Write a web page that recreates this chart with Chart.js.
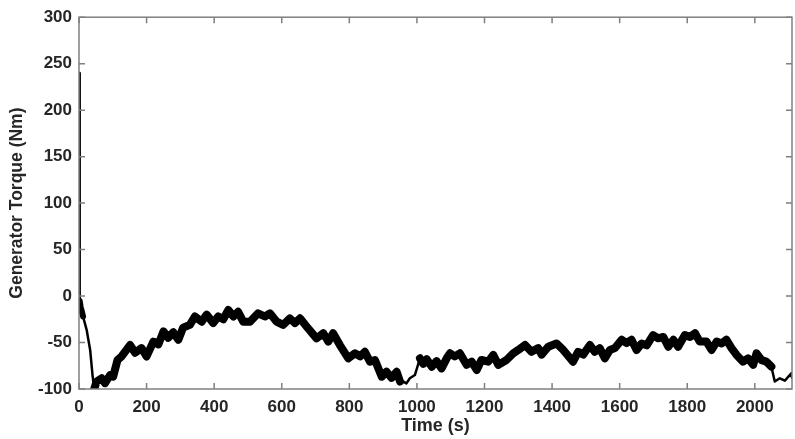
<!DOCTYPE html>
<html>
<head>
<meta charset="utf-8">
<script src="https://cdn.jsdelivr.net/npm/chart.js@4"></script>
<style>
  html, body { margin: 0; padding: 0; background: #fff; }
  #wrap { width: 795px; height: 439px; }
</style>
</head>
<body>
<div id="wrap"><canvas id="torque"></canvas></div>
<script>
// time (s) and generator torque (Nm)
const timeS = [0, 0.5, 2, 5, 8, 12, 23, 33, 40, 45, 52, 67, 77, 92, 101, 114, 126, 151, 166, 185, 200,
  220, 235, 250, 264, 279, 294, 308, 328, 343, 363, 378, 397, 412, 427, 442, 457, 471, 486, 506,
  530, 550, 565, 585, 604, 624, 639, 654, 674, 703, 723, 738, 752, 772, 797, 817, 832, 846, 861,
  876, 896, 910, 925, 940, 950, 960, 969, 979, 994, 1009, 1019, 1029, 1044, 1058, 1073, 1088,
  1098, 1112, 1127, 1147, 1162, 1177, 1191, 1211, 1226, 1241, 1265, 1285, 1300, 1320, 1339,
  1359, 1369, 1389, 1413, 1433, 1462, 1477, 1492, 1512, 1526, 1541, 1556, 1571, 1586, 1606,
  1620, 1635, 1650, 1665, 1680, 1699, 1714, 1729, 1744, 1759, 1773, 1793, 1808, 1823, 1837,
  1857, 1872, 1887, 1902, 1916, 1931, 1946, 1965, 1980, 1995, 2005, 2020, 2034, 2049, 2059,
  2074, 2089, 2108, 2110];
const torqueNm = [240, 17, -5, -12, -16, -22, -37, -58, -85, -100, -92, -88.5, -93.7, -85, -86.7, -68.8, -65, -52.7, -61, -56, -65,
  -49, -52, -38, -45, -39, -47, -34, -31, -22, -27.6, -20, -29, -22, -25, -15, -22, -17, -27.6, -27.6,
  -18.6, -22, -18.6, -27.6, -31, -24, -29, -24, -33, -45.5, -40, -49, -40, -52.7, -67, -61.6, -65, -60, -70.6,
  -69, -86.8, -81.4, -88, -81.4, -92, -92, -94, -88.5, -85, -67, -73, -68, -76, -70, -77.8, -67,
  -61.6, -65, -61.6, -74, -70.6, -79.6, -68.8, -70.6, -63.4, -74, -68.8, -61.6, -58, -52.7, -60,
  -56, -63, -54.5, -51, -58, -70.6, -60, -63, -52.7, -60, -56, -67, -58, -56, -47,
  -50.6, -47, -58, -51, -53, -42, -45.5, -44, -54.5, -47, -54.5, -42, -44, -40, -49,
  -49, -58, -49, -51, -47, -56, -63.4, -70.6, -67, -74, -61.6, -69, -70.6, -76, -92,
  -88.5, -91, -83, -88];
const xTicks = [0, 200, 400, 600, 800, 1000, 1200, 1400, 1600, 1800, 2000];
const yTicks = [-100, -50, 0, 50, 100, 150, 200, 250, 300];

const axisGray = '#808080';
const textGray = '#262626';
const font = { family: '"Liberation Sans", Arial, sans-serif', weight: 'bold', size: 17 };

const points = timeS.map((t, i) => ({ x: t, y: torqueNm[i] }));

// thin stretches of the trace (start-up, ~950-1005 s, tail)
function thin(ctx) {
  const t = ctx.p0.parsed.x;
  if (t < 2) return 3;
  if (t < 12) return 6;
  if (t < 45 || (t >= 950 && t < 1009) || t >= 2049) return 2.5;
  return 8;
}

// box + inward ticks on all four sides
const boxPlugin = {
  id: 'box',
  afterDraw(chart) {
    const { ctx, chartArea: a, scales } = chart;
    ctx.save();
    ctx.strokeStyle = axisGray;
    ctx.lineWidth = 1.5;
    ctx.strokeRect(a.left, a.top, a.right - a.left, a.bottom - a.top);
    ctx.beginPath();
    xTicks.forEach(v => {
      const px = scales.x.getPixelForValue(v);
      ctx.moveTo(px, a.bottom); ctx.lineTo(px, a.bottom - 6);
      ctx.moveTo(px, a.top); ctx.lineTo(px, a.top + 6);
    });
    yTicks.forEach(v => {
      const py = scales.y.getPixelForValue(v);
      ctx.moveTo(a.left, py); ctx.lineTo(a.left + 6, py);
      ctx.moveTo(a.right, py); ctx.lineTo(a.right - 6, py);
    });
    ctx.stroke();
    ctx.restore();
  }
};

new Chart(document.getElementById('torque'), {
  type: 'line',
  data: {
    datasets: [{
      data: points,
      borderColor: '#000',
      borderWidth: 8,
      borderJoinStyle: 'round',
      borderCapStyle: 'round',
      pointRadius: 0,
      tension: 0,
      segment: { borderWidth: thin }
    }]
  },
  options: {
    responsive: true,
    maintainAspectRatio: false,
    animation: false,
    layout: { padding: { top: 17, right: 3, left: 0, bottom: 0 } },
    plugins: { legend: { display: false }, tooltip: { enabled: false } },
    scales: {
      x: {
        type: 'linear',
        min: 0,
        max: 2110,
        afterBuildTicks: s => { s.ticks = xTicks.map(v => ({ value: v })); },
        afterFit: s => { s.height = 50; },
        grid: { display: false, drawTicks: false },
        border: { display: false },
        ticks: { color: textGray, font, padding: 8, maxRotation: 0, callback: v => String(v) },
        title: { display: true, text: 'Time (s)', color: textGray, font: { ...font, size: 18 }, padding: { top: 0, bottom: 2 } }
      },
      y: {
        min: -100,
        max: 300,
        afterBuildTicks: s => { s.ticks = yTicks.map(v => ({ value: v })); },
        afterFit: s => { s.width = 79; },
        grid: { display: false, drawTicks: false },
        border: { display: false },
        ticks: { color: textGray, font, padding: 7, callback: v => String(v) },
        title: { display: true, text: 'Generator Torque (Nm)', color: textGray, font: { ...font, size: 17.5 }, padding: { top: 7, bottom: 0 } }
      }
    }
  },
  plugins: [boxPlugin]
});
</script>
</body>
</html>
